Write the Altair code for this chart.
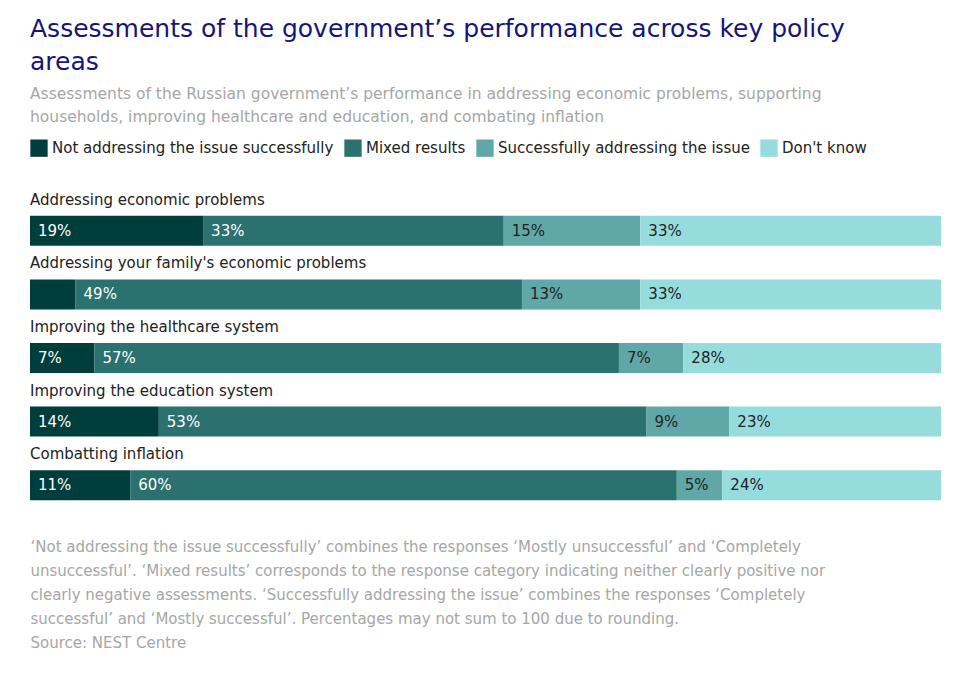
import altair as alt
import pandas as pd

areas = [
    "Addressing economic problems",
    "Addressing your family's economic problems",
    "Improving the healthcare system",
    "Improving the education system",
    "Combatting inflation",
]
categories = [
    "Not addressing the issue successfully",
    "Mixed results",
    "Successfully addressing the issue",
    "Don't know",
]
values = [
    [19, 33, 15, 33],
    [5, 49, 13, 33],
    [7, 57, 7, 28],
    [14, 53, 9, 23],
    [11, 60, 5, 24],
]
colors = ["#003d3d", "#2a716f", "#60a7a7", "#96dcdd"]

rows = []
for a, vals in zip(areas, values):
    for i, (c, v) in enumerate(zip(categories, vals)):
        hide = a.startswith("Addressing your") and i == 0
        rows.append({"area": a, "cat": c, "order": i, "pct": v,
                     "label": "" if hide else f"{v}%"})
df = pd.DataFrame(rows)

FONT = "DejaVu Sans"
GREY = "#a6a6a6"

base = alt.Chart(df).transform_stack(
    stack="pct", as_=["x0", "x1"], groupby=["area"], offset="normalize",
    sort=[alt.SortField("order")]
)
yenc = alt.Y("area:N", sort=areas, axis=None,
             scale=alt.Scale(paddingInner=0, paddingOuter=0))

footnote = [
    "‘Not addressing the issue successfully’ combines the responses ‘Mostly unsuccessful’ and ‘Completely",
    "unsuccessful’. ‘Mixed results’ corresponds to the response category indicating neither clearly positive nor",
    "clearly negative assessments. ‘Successfully addressing the issue’ combines the responses ‘Completely",
    "successful’ and ‘Mostly successful’. Percentages may not sum to 100 due to rounding.",
    "Source: NEST Centre",
]

bars = base.mark_bar(size=30).encode(
    x=alt.X("x0:Q", scale=alt.Scale(domain=[0, 1], nice=False),
            axis=alt.Axis(title=footnote, labels=False, ticks=False, domain=False,
                          grid=False, titleAnchor="start", titleAlign="left",
                          titleColor=GREY, titleFontSize=15, titleFontWeight="normal",
                          titleLineHeight=24, titlePadding=22, titleFont=FONT)),
    x2="x1:Q",
    y=yenc,
    color=alt.Color("cat:N", sort=categories,
                    scale=alt.Scale(domain=categories, range=colors),
                    legend=alt.Legend(title=None, orient="top", direction="horizontal",
                                      symbolType="square", symbolSize=300,
                                      symbolStrokeWidth=0, labelFontSize=15,
                                      labelFont=FONT, labelColor="#222",
                                      columns=4, labelLimit=400, offset=42)),
)

labels = base.mark_text(align="left", baseline="middle", dx=8, fontSize=15, font=FONT).encode(
    x="x0:Q",
    y=yenc,
    text="label:N",
    color=alt.condition("datum.order < 2", alt.value("white"), alt.value("#222")),
)

names = alt.Chart(pd.DataFrame({"area": areas})).mark_text(
    align="left", baseline="middle", dy=-31, fontSize=15, font=FONT, color="#222"
).encode(x=alt.value(0), y=yenc, text="area:N")

chart = alt.layer(bars, labels, names).properties(
    width=911, height=318,
    padding={"left": 22, "top": 8, "right": 12, "bottom": 8},
    title=alt.TitleParams(
        ["Assessments of the government’s performance across key policy", "areas"],
        subtitle=["Assessments of the Russian government’s performance in addressing economic problems, supporting",
                  "households, improving healthcare and education, and combating inflation"],
        anchor="start", font=FONT, fontSize=25, fontWeight="normal", color="#15157a",
        lineHeight=33, subtitleFont=FONT, subtitleFontSize=15.5, subtitleColor=GREY,
        subtitleLineHeight=23, subtitlePadding=12, offset=14,
    ),
).configure_view(stroke=None)

chart.save("out.html", embed_options={"renderer": "svg", "actions": False})
